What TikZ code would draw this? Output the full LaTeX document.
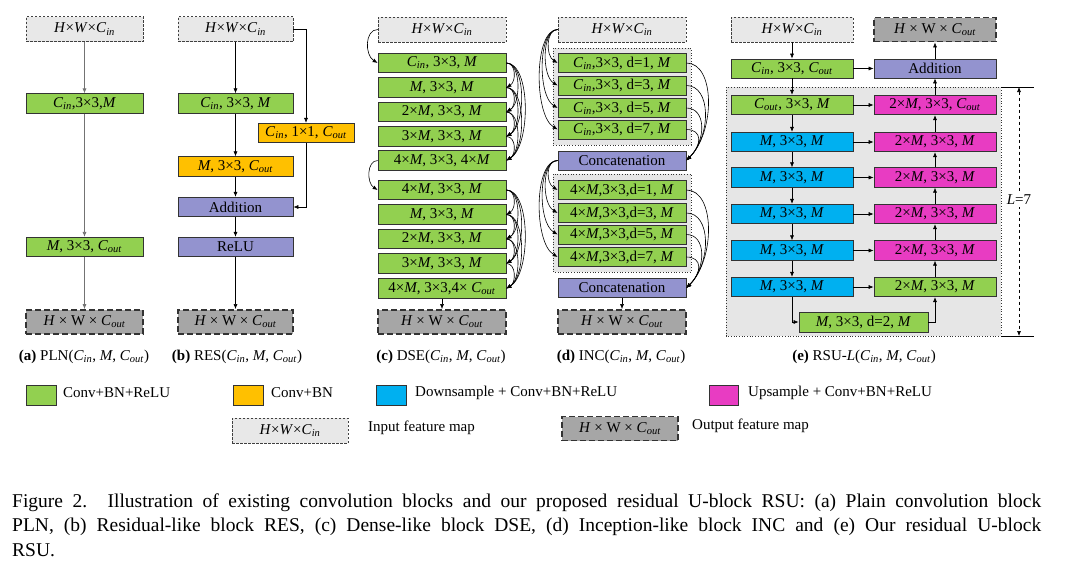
\documentclass[tikz,border=0pt]{standalone}
\usepackage{fontspec}
\setmainfont{Liberation Serif}
\usetikzlibrary{arrows.meta,calc}
\definecolor{cgreen}{HTML}{92D050}
\definecolor{corange}{HTML}{FFC000}
\definecolor{cblue}{HTML}{00B0F0}
\definecolor{cpink}{HTML}{E83CC2}
\definecolor{cpurple}{HTML}{9393CF}
\definecolor{cinmap}{HTML}{E8E8E8}
\definecolor{coutmap}{HTML}{A6A6A6}
\definecolor{cgroup}{HTML}{E6E6E6}
\newcommand{\myCin}{\textit{C}\textsubscript{\textit{in}}}
\newcommand{\myCout}{\textit{C}\textsubscript{\textit{out}}}
\newcommand{\myM}{\textit{M}}
\newcommand{\myHWin}{\textit{H}×\textit{W}×\myCin}
\newcommand{\myHWout}{\textit{H} × W × \myCout}
\tikzset{
  fnt/.style={font=\fontsize{15}{18}\selectfont},
  blk/.style={fnt, draw=black!80, line width=0.7pt, inner sep=0pt, minimum height=19.5pt},
  gblk/.style={blk, fill=cgreen},
  oblk/.style={blk, fill=corange},
  bblk/.style={blk, fill=cblue},
  pblk/.style={blk, fill=cpink},
  ublk/.style={blk, fill=cpurple},
  inmap/.style={fnt, draw=black!75, dash pattern=on 2.5pt off 1.5pt, line width=0.6pt, fill=cinmap, minimum height=25pt, inner sep=0pt},
  outmap/.style={fnt, draw=black!80, dash pattern=on 6pt off 3pt, line width=1.8pt, fill=coutmap, minimum height=24pt, inner sep=0pt},
  arr/.style={-{Latex[length=5pt,width=4pt]}, line width=0.6pt, black},
  garr/.style={-{Latex[length=5pt,width=4pt]}, line width=0.7pt, black!55},
  grp/.style={draw=black!80, dotted, line width=0.7pt, fill=cgroup},
  lbl/.style={fnt, inner sep=0pt},
  capfnt/.style={anchor=base west, inner sep=0pt, font=\fontsize{19.5}{23}\selectfont},
}
\begin{document}
\begin{tikzpicture}[x=1pt,y=-1pt]
\useasboundingbox (0,0) rectangle (1068,584);
\fill[white] (0,0) rectangle (1068,584);

% ---------------- (a) PLN
\node[inmap, minimum width=117pt] (ina) at (84.5,29) {\myHWin};
\node[gblk, minimum width=117pt] (a1) at (84.5,103.5) {\myCin,3×3,\myM};
\node[gblk, minimum width=117pt] (a2) at (84.5,247) {\myM, 3×3, \myCout};
\node[outmap, minimum width=117pt] (outa) at (84.5,322) {\myHWout};
\draw[garr] (ina) -- (a1);
\draw[garr] (a1) -- (a2);
\draw[garr] (a2) -- (outa);
\node[lbl] (capa) at (84,357) {\textbf{(a)} PLN(\myCin, \myM, \myCout)};

% ---------------- (b) RES
\node[inmap, minimum width=115pt] (inb) at (235.5,29) {\myHWin};
\node[gblk, minimum width=115pt] (b1) at (235.5,103.5) {\myCin, 3×3, \myM};
\node[oblk, minimum width=96pt] (bs) at (306,133) {\myCin, 1×1, \myCout};
\node[oblk, minimum width=115pt] (b2) at (235.5,166.5) {\myM, 3×3, \myCout};
\node[ublk, minimum width=115pt] (badd) at (235.5,207) {Addition};
\node[ublk, minimum width=115pt] (brelu) at (235.5,247) {ReLU};
\node[outmap, minimum width=115pt] (outb) at (235.5,322) {\myHWout};
\draw[arr] (inb) -- (b1);
\draw[arr] (b1) -- (b2);
\draw[arr] (b2) -- (badd);
\draw[arr] (badd) -- (brelu);
\draw[arr] (brelu) -- (outb);
\draw[arr] (inb.east) -| (bs.north);
\draw[arr] (bs.south) |- (badd.east);
\node[lbl] (capb) at (237,357) {\textbf{(b)} RES(\myCin, \myM, \myCout)};

% ---------------- (c) DSE
\node[inmap, minimum width=128pt] (inc) at (442,29.5) {\myHWin};
\foreach \i/\yy/\t in {
  1/63/{\myCin, 3×3, \myM},
  2/87.5/{\myM, 3×3, \myM},
  3/112/{2×\myM, 3×3, \myM},
  4/136.5/{3×\myM, 3×3, \myM},
  5/160.5/{4×\myM, 3×3, 4×\myM},
  6/190/{4×\myM, 3×3, \myM},
  7/214.5/{\myM, 3×3, \myM},
  8/239/{2×\myM, 3×3, \myM},
  9/263.5/{3×\myM, 3×3, \myM},
  10/288.5/{4×\myM, 3×3,4× \myCout}}{
  \node[gblk, minimum width=128pt] (c\i) at (442,\yy) {\t};
}
\node[outmap, minimum width=128pt] (outc) at (442,322) {\myHWout};
\draw[arr] (inc.west) .. controls +(-13,0) and +(-13,-8) .. (c1.west);
\draw[arr] (c5.west) .. controls +(-11,0) and +(-11,-7) .. (c6.west);
\foreach \o in {0,5}{
  \foreach \a/\b in {1/2,1/3,1/4,1/5,2/3,2/4,2/5,3/4,3/5,4/5}{
    \pgfmathtruncatemacro\sa{\a+\o}
    \pgfmathtruncatemacro\sb{\b+\o}
    \pgfmathsetmacro\dd{5+4.9*(\b-\a)}
    \draw[arr] (c\sa.east) .. controls +(\dd,0) and +(\dd,-0.6*\dd) .. (c\sb.east);
  }
}
\draw[arr] (c10) -- (outc);
\node[lbl] (capc) at (441,357) {\textbf{(c)} DSE(\myCin, \myM, \myCout)};

% ---------------- (d) INC
\draw[grp] (553,48) rectangle (691,145);
\draw[grp] (553,174) rectangle (691,272);
\node[inmap, minimum width=128pt] (ind) at (622,29.5) {\myHWin};
\foreach \i/\yy/\k in {1/63/1,2/85.5/3,3/108/5,4/129.5/7}{
  \node[gblk, minimum width=128pt, minimum height=19pt] (d\i) at (622,\yy) {\myCin,3×3, d=\k, \myM};
}
\node[ublk, minimum width=128pt, minimum height=19pt] (cc1) at (622,160.5) {Concatenation};
\foreach \i/\yy/\k in {5/190/1,6/213/3,7/234.5/5,8/257/7}{
  \node[gblk, minimum width=128pt, minimum height=19pt] (d\i) at (622,\yy) {4×\myM,3×3,d=\k, \myM};
}
\node[ublk, minimum width=128pt, minimum height=19pt] (cc2) at (622,288) {Concatenation};
\node[outmap, minimum width=128pt] (outd) at (622,322) {\myHWout};
\foreach \i/\dd in {1/12,2/16,3/20,4/24}{
  \draw[arr] (ind.west) .. controls +(-\dd,0) and +(-\dd,-0.6*\dd) .. (d\i.west);
}
\foreach \i/\dd in {5/12,6/16,7/20,8/24}{
  \draw[arr] (cc1.west) .. controls +(-\dd,0) and +(-\dd,-0.6*\dd) .. (d\i.west);
}
\foreach \i/\dd in {1/29,2/25,3/20,4/16}{
  \draw[arr] (d\i.east) .. controls +(\dd,0) and +(\dd,-\dd) .. (cc1.east);
}
\foreach \i/\dd in {5/29,6/25,7/20,8/16}{
  \draw[arr] (d\i.east) .. controls +(\dd,0) and +(\dd,-\dd) .. (cc2.east);
}
\draw[arr] (cc2) -- (outd);
\node[lbl] (capd) at (621,357) {\textbf{(d)} INC(\myCin, \myM, \myCout)};

% ---------------- (e) RSU
\draw[grp] (726,87) rectangle (1001,336);
\node[inmap, minimum width=122pt] (ine) at (792,29.5) {\myHWin};
\node[outmap, minimum width=122pt] (oute) at (935,29.5) {\myHWout};
\node[gblk, minimum width=122pt, minimum height=19pt] (e0) at (792,68.5) {\myCin, 3×3, \myCout};
\node[ublk, minimum width=122pt, minimum height=19pt] (eadd) at (935,68.5) {Addition};
\node[gblk, minimum width=122pt] (l1) at (792,105) {\myCout, 3×3, \myM};
\node[pblk, minimum width=122pt] (r1) at (935,105) {2×\myM, 3×3, \myCout};
\foreach \i/\yy in {2/142,3/177.5,4/214,5/250.5,6/287}{
  \node[bblk, minimum width=122pt] (l\i) at (792,\yy) {\myM, 3×3, \myM};
}
\foreach \i/\yy in {2/142,3/177.5,4/214,5/250.5}{
  \node[pblk, minimum width=122pt] (r\i) at (935,\yy) {2×\myM, 3×3, \myM};
}
\node[gblk, minimum width=122pt] (r6) at (935,287) {2×\myM, 3×3, \myM};
\node[gblk, minimum width=129pt, minimum height=20pt] (ebot) at (863.5,322) {\myM, 3×3, d=2, \myM};
\draw[arr] (ine) -- (e0);
\draw[arr] (e0) -- (eadd);
\draw[arr] (e0) -- (l1);
\foreach \i/\j in {1/2,2/3,3/4,4/5,5/6}{
  \draw[arr] (l\i) -- (l\j);
  \draw[arr] (r\j) -- (r\i);
}
\foreach \i in {1,...,6}{
  \draw[arr] (l\i) -- (r\i);
}
\draw[arr] (l6.south) |- (ebot.west);
\draw[arr] (ebot.east) -| (r6.south);
\draw[arr] (r1) -- (eadd);
\draw[arr] (eadd) -- (oute);
% dimension L=7
\coordinate (dt) at (1019,87);
\coordinate (db) at (1019,336);
\draw[line width=0.9pt] (1001,87) -- (1034,87);
\draw[line width=0.9pt] (1001,336) -- (1034,336);
\draw[dashed, line width=0.6pt, {Latex[length=5pt,width=4pt]}-{Latex[length=5pt,width=4pt]}] (dt) -- (db);
\node[lbl, fill=white, inner sep=2pt] (ldim) at (1019,200) {\textit{L}=7};
\node[lbl] (cape) at (864,357) {\textbf{(e)} RSU-\textit{L}(\myCin, \myM , \myCout)};

% ---------------- legend
\node[gblk, minimum width=30pt, minimum height=20pt] (lg1) at (41,395) {};
\node[lbl, anchor=west] (lt1) at (63,393) {Conv+BN+ReLU};
\node[oblk, minimum width=30pt, minimum height=20pt] (lg2) at (248,395) {};
\node[lbl, anchor=west] (lt2) at (271,393) {Conv+BN};
\node[bblk, minimum width=30pt, minimum height=20pt] (lg3) at (391,395) {};
\node[lbl, anchor=west] (lt3) at (415,393) {Downsample + Conv+BN+ReLU};
\node[pblk, minimum width=29pt, minimum height=20pt] (lg4) at (723.5,395) {};
\node[lbl, anchor=west] (lt4) at (748,393) {Upsample + Conv+BN+ReLU};
\node[inmap, minimum width=116pt] (lg5) at (290,430.5) {\myHWin};
\node[lbl, anchor=west] (lt5) at (368,428) {Input feature map};
\node[outmap, minimum width=116pt] (lg6) at (620,428.5) {\myHWout};
\node[lbl, anchor=west] (lt6) at (692,426) {Output feature map};

% ---------------- caption
\node[capfnt] (cap1) at (12,507)
  {\makebox[1029pt][s]{Figure 2. Illustration of existing convolution blocks and our proposed residual U-block RSU: (a) Plain convolution block}};
\node[capfnt] (cap2) at (12,531.5)
  {\makebox[1029pt][s]{PLN, (b) Residual-like block RES, (c) Dense-like block DSE, (d) Inception-like block INC and (e) Our residual U-block}};
\node[capfnt] (cap3) at (12,556) {RSU.};
\end{tikzpicture}
\end{document}
